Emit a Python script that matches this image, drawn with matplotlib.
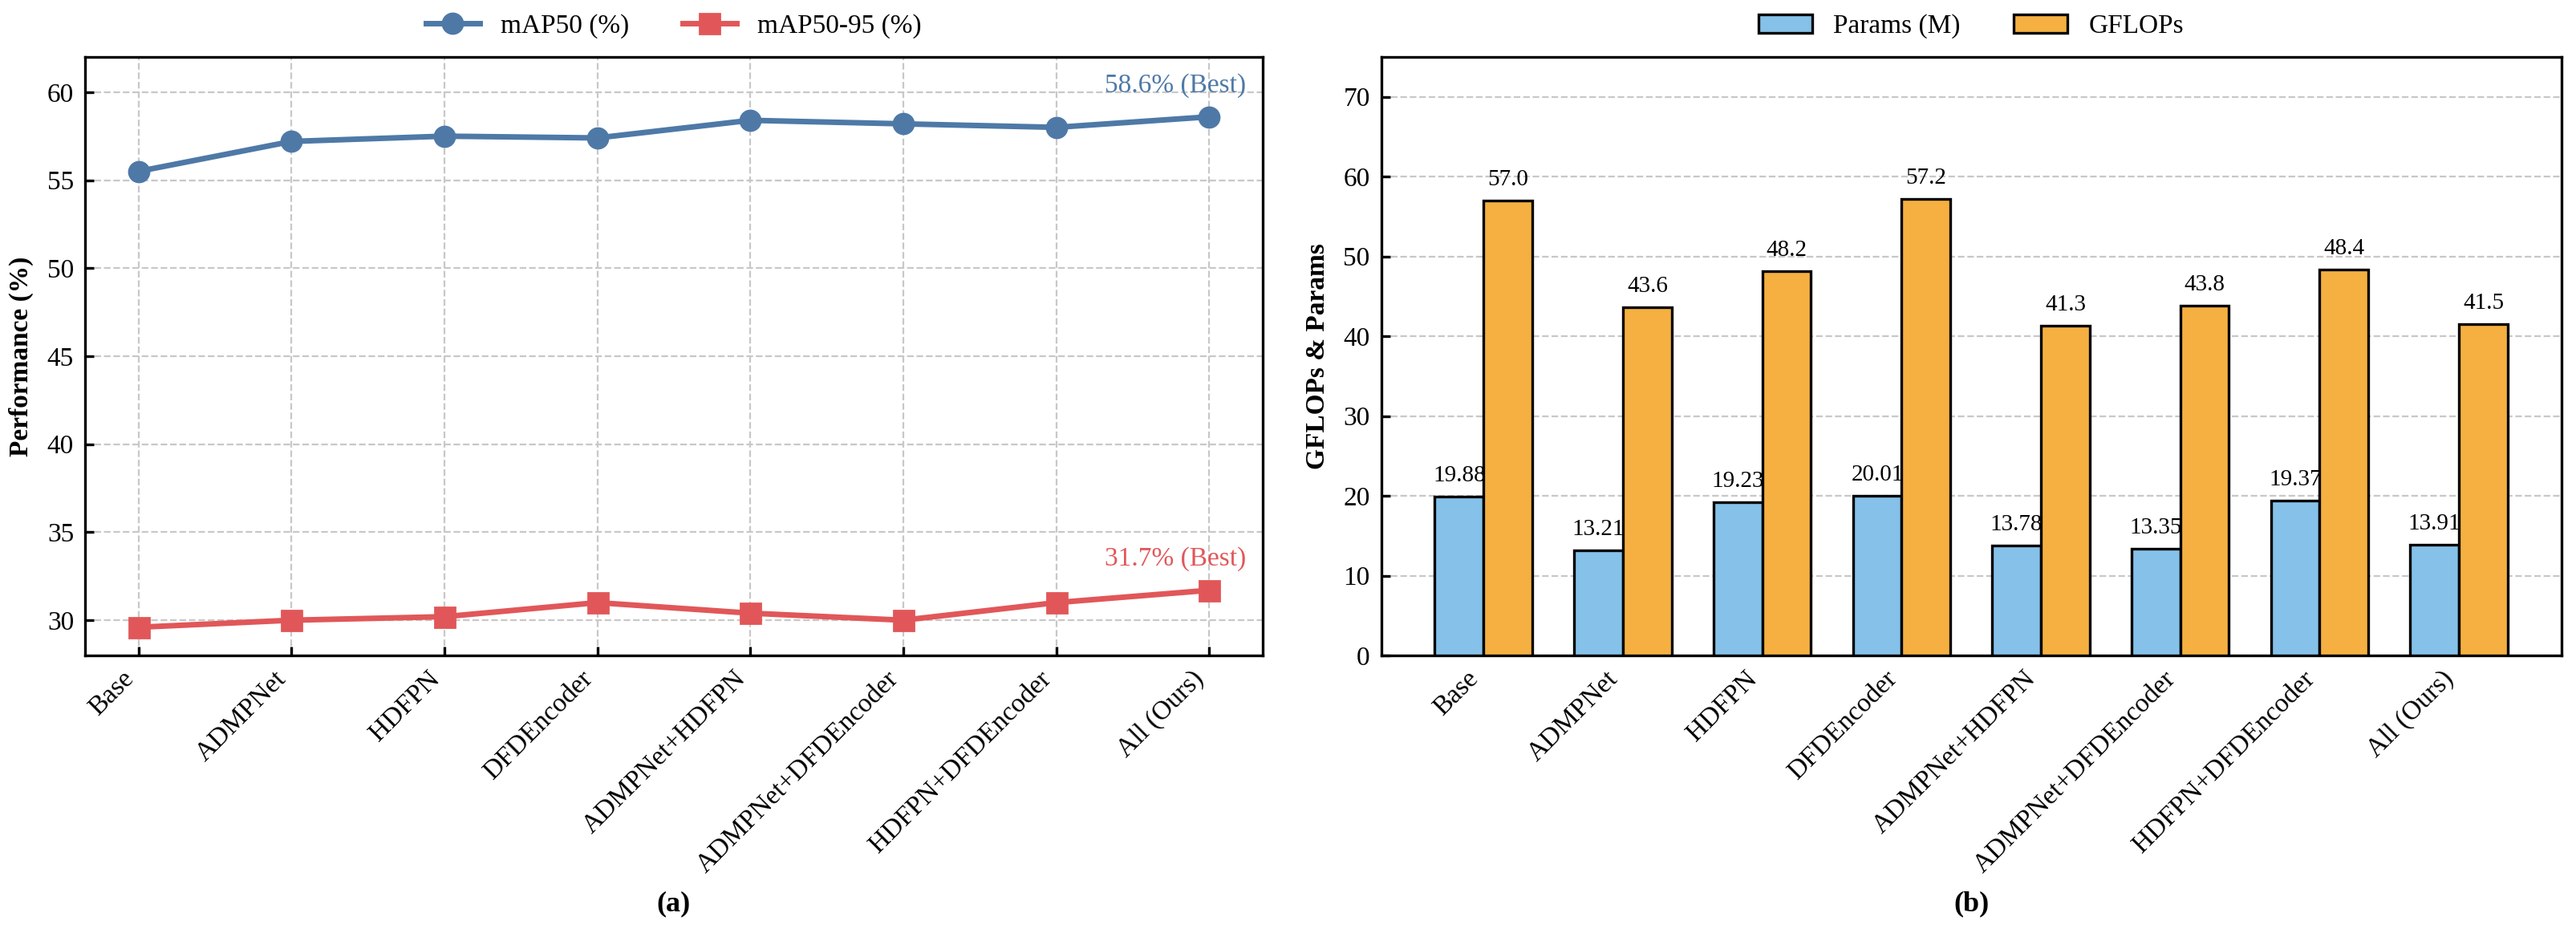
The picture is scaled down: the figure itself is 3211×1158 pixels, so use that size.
import numpy as np
import matplotlib
matplotlib.use("Agg")
import matplotlib.pyplot as plt

plt.rcParams['font.family'] = ['Liberation Serif', 'DejaVu Serif']
plt.rcParams['font.size'] = 12

# ablation settings
methods = ['Base', 'ADMPNet', 'HDFPN', 'DFDEncoder', 'ADMPNet+HDFPN',
           'ADMPNet+DFDEncoder', 'HDFPN+DFDEncoder', 'All (Ours)']
map50 = [55.5, 57.2, 57.5, 57.4, 58.4, 58.2, 58.0, 58.6]
map50_95 = [29.6, 30.0, 30.2, 31.0, 30.4, 30.0, 31.0, 31.7]
params = [19.88, 13.21, 19.23, 20.01, 13.78, 13.35, 19.37, 13.91]
gflops = [57.0, 43.6, 48.2, 57.2, 41.3, 43.8, 48.4, 41.5]

c_blue = '#4E79A7'
c_red = '#E15759'
c_params = '#85C1E9'
c_gflops = '#F5B041'

fig = plt.figure(figsize=(16.06, 5.79), dpi=200)
ax1 = fig.add_axes([0.033, 0.2945, 0.457, 0.6442])
ax2 = fig.add_axes([0.536, 0.2945, 0.458, 0.6442])

x = np.arange(len(methods))

# (a) accuracy
ax1.plot(x, map50, '-o', color=c_blue, lw=2.5, ms=9, label='mAP50 (%)', zorder=3)
ax1.plot(x, map50_95, '-s', color=c_red, lw=2.5, ms=9, label='mAP50-95 (%)', zorder=3)
ax1.annotate(f'{map50[-1]:.1f}% (Best)', xy=(x[-1], map50[-1]), xytext=(-15, 11),
             textcoords='offset points', ha='center', color=c_blue, fontsize=12)
ax1.annotate(f'{map50_95[-1]:.1f}% (Best)', xy=(x[-1], map50_95[-1]), xytext=(-15, 11),
             textcoords='offset points', ha='center', color=c_red, fontsize=12)
ax1.set_ylim(28, 62)
ax1.set_yticks([30, 35, 40, 45, 50, 55, 60])
ax1.set_xticks(x)
ax1.set_xticklabels(methods, rotation=45, ha='right')
ax1.set_ylabel('Performance (%)', fontweight='bold', fontsize=12, labelpad=6)
ax1.grid(True, linestyle='--', color='#c8c8c8', lw=0.8)
ax1.set_axisbelow(True)
ax1.legend(loc='center', bbox_to_anchor=(0.5, 1.051), ncol=2, frameon=False, fontsize=12)

# (b) complexity
w = 0.35
ax2.bar(x - w / 2, params, w, color=c_params, edgecolor='black', lw=1.2, label='Params (M)', zorder=3)
ax2.bar(x + w / 2, gflops, w, color=c_gflops, edgecolor='black', lw=1.2, label='GFLOPs', zorder=3)
for i in range(len(methods)):
    ax2.text(x[i] - w / 2, params[i] + 1.3, f'{params[i]:.2f}', ha='center', va='bottom', fontsize=10.5)
    ax2.text(x[i] + w / 2, gflops[i] + 1.3, f'{gflops[i]:.1f}', ha='center', va='bottom', fontsize=10.5)
ax2.set_ylim(0, 75)
ax2.set_yticks(range(0, 71, 10))
ax2.set_xticks(x)
ax2.set_xticklabels(methods, rotation=45, ha='right')
ax2.set_ylabel('GFLOPs & Params', fontweight='bold', fontsize=12, labelpad=6)
ax2.yaxis.grid(True, linestyle='--', color='#c8c8c8', lw=0.8)
ax2.set_axisbelow(True)
ax2.legend(loc='center', bbox_to_anchor=(0.5, 1.051), ncol=2, frameon=False, fontsize=12)

for ax in (ax1, ax2):
    for s in ax.spines.values():
        s.set_linewidth(1.2)
    ax.tick_params(direction='in', width=1.2, length=4, labelsize=12, pad=5)

fig.text(0.2615, 0.027, '(a)', ha='center', va='center', fontweight='bold', fontsize=13)
fig.text(0.765, 0.027, '(b)', ha='center', va='center', fontweight='bold', fontsize=13)

fig.savefig('out.png', dpi=200)
